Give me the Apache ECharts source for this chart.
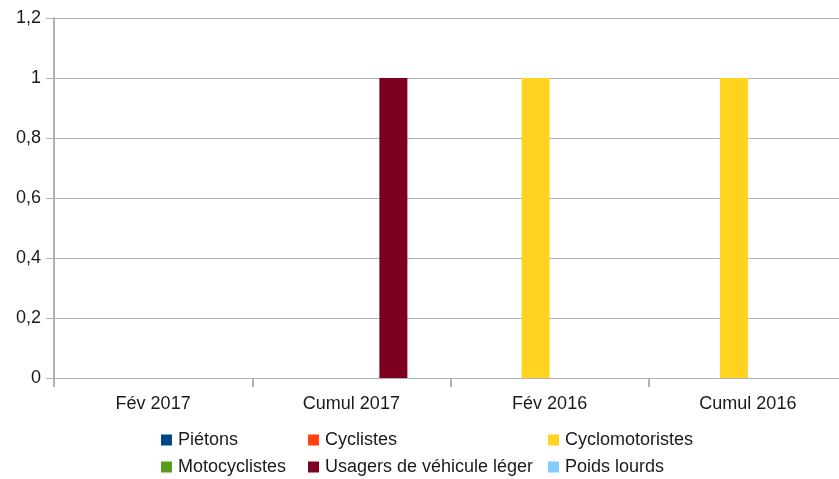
<!DOCTYPE html>
<html>
<head>
<meta charset="utf-8">
<script src="https://cdn.jsdelivr.net/npm/echarts@6/dist/echarts.min.js"></script>
<style>
  html, body { margin: 0; padding: 0; background: #fff; }
  #chart { width: 839px; height: 479px; }
</style>
</head>
<body>
<div id="chart"></div>
<script>
// categories and values
let categories = ['Fév 2017', 'Cumul 2017', 'Fév 2016', 'Cumul 2016'];
let pietons = [0, 0, 0, 0];
let cyclistes = [0, 0, 0, 0];
let cyclomotoristes = [0, 0, 1, 1];
let motocyclistes = [0, 0, 0, 0];
let usagersVL = [0, 1, 0, 0];
let poidsLourds = [0, 0, 0, 0];

let seriesNames = ['Piétons', 'Cyclistes', 'Cyclomotoristes', 'Motocyclistes', 'Usagers de véhicule léger', 'Poids lourds'];
let seriesData = [pietons, cyclistes, cyclomotoristes, motocyclistes, usagersVL, poidsLourds];
let colors = ['#004586', '#ff420e', '#ffd320', '#579d1c', '#7e0021', '#83caff'];

let font = 'Liberation Sans';
let textColor = '#1a1a1a';
let gridColor = '#b3b3b3';

// legend is 3 columns x 2 rows, one legend per entry
let legendCols = [161, 308, 548];
let legendRows = [431, 458];

function legendItem(name, i) {
  return {
    left: legendCols[i % 3],
    top: legendRows[Math.floor(i / 3)],
    padding: 0,
    itemWidth: 11,
    itemHeight: 11,
    itemGap: 0,
    icon: 'rect',
    itemStyle: { borderWidth: 0 },
    textStyle: { fontFamily: font, fontSize: 18, color: textColor, padding: [0, 0, 0, 1] },
    data: [name]
  };
}

let myChart = echarts.init(document.getElementById('chart'));
myChart.setOption({
  animation: false,
  color: colors,
  grid: { left: 54, top: 18, width: 793, height: 360, containLabel: false, outerBoundsMode: 'none' },
  legend: seriesNames.map(legendItem),
  xAxis: {
    type: 'category',
    data: categories,
    axisLine: { lineStyle: { color: gridColor, width: 1 } },
    axisTick: { show: true, length: 9, lineStyle: { color: gridColor, width: 2 } },
    axisLabel: { fontFamily: font, fontSize: 18, color: textColor, margin: 17 },
    splitLine: { show: false }
  },
  yAxis: {
    type: 'value',
    min: 0,
    max: 1.2,
    interval: 0.2,
    axisLine: { show: true, lineStyle: { color: gridColor, width: 2 } },
    axisTick: { show: true, length: 8, lineStyle: { color: gridColor, width: 1 } },
    axisLabel: {
      fontFamily: font, fontSize: 18, color: textColor, margin: 13,
      formatter: function (v) { return String(+v.toFixed(1)).replace('.', ','); }
    },
    splitLine: { show: true, lineStyle: { color: gridColor, width: 1 } }
  },
  series: seriesNames.map(function (name, i) {
    return {
      name: name,
      type: 'bar',
      data: seriesData[i],
      barWidth: 28,
      barGap: '0%'
    };
  })
});
</script>
</body>
</html>
